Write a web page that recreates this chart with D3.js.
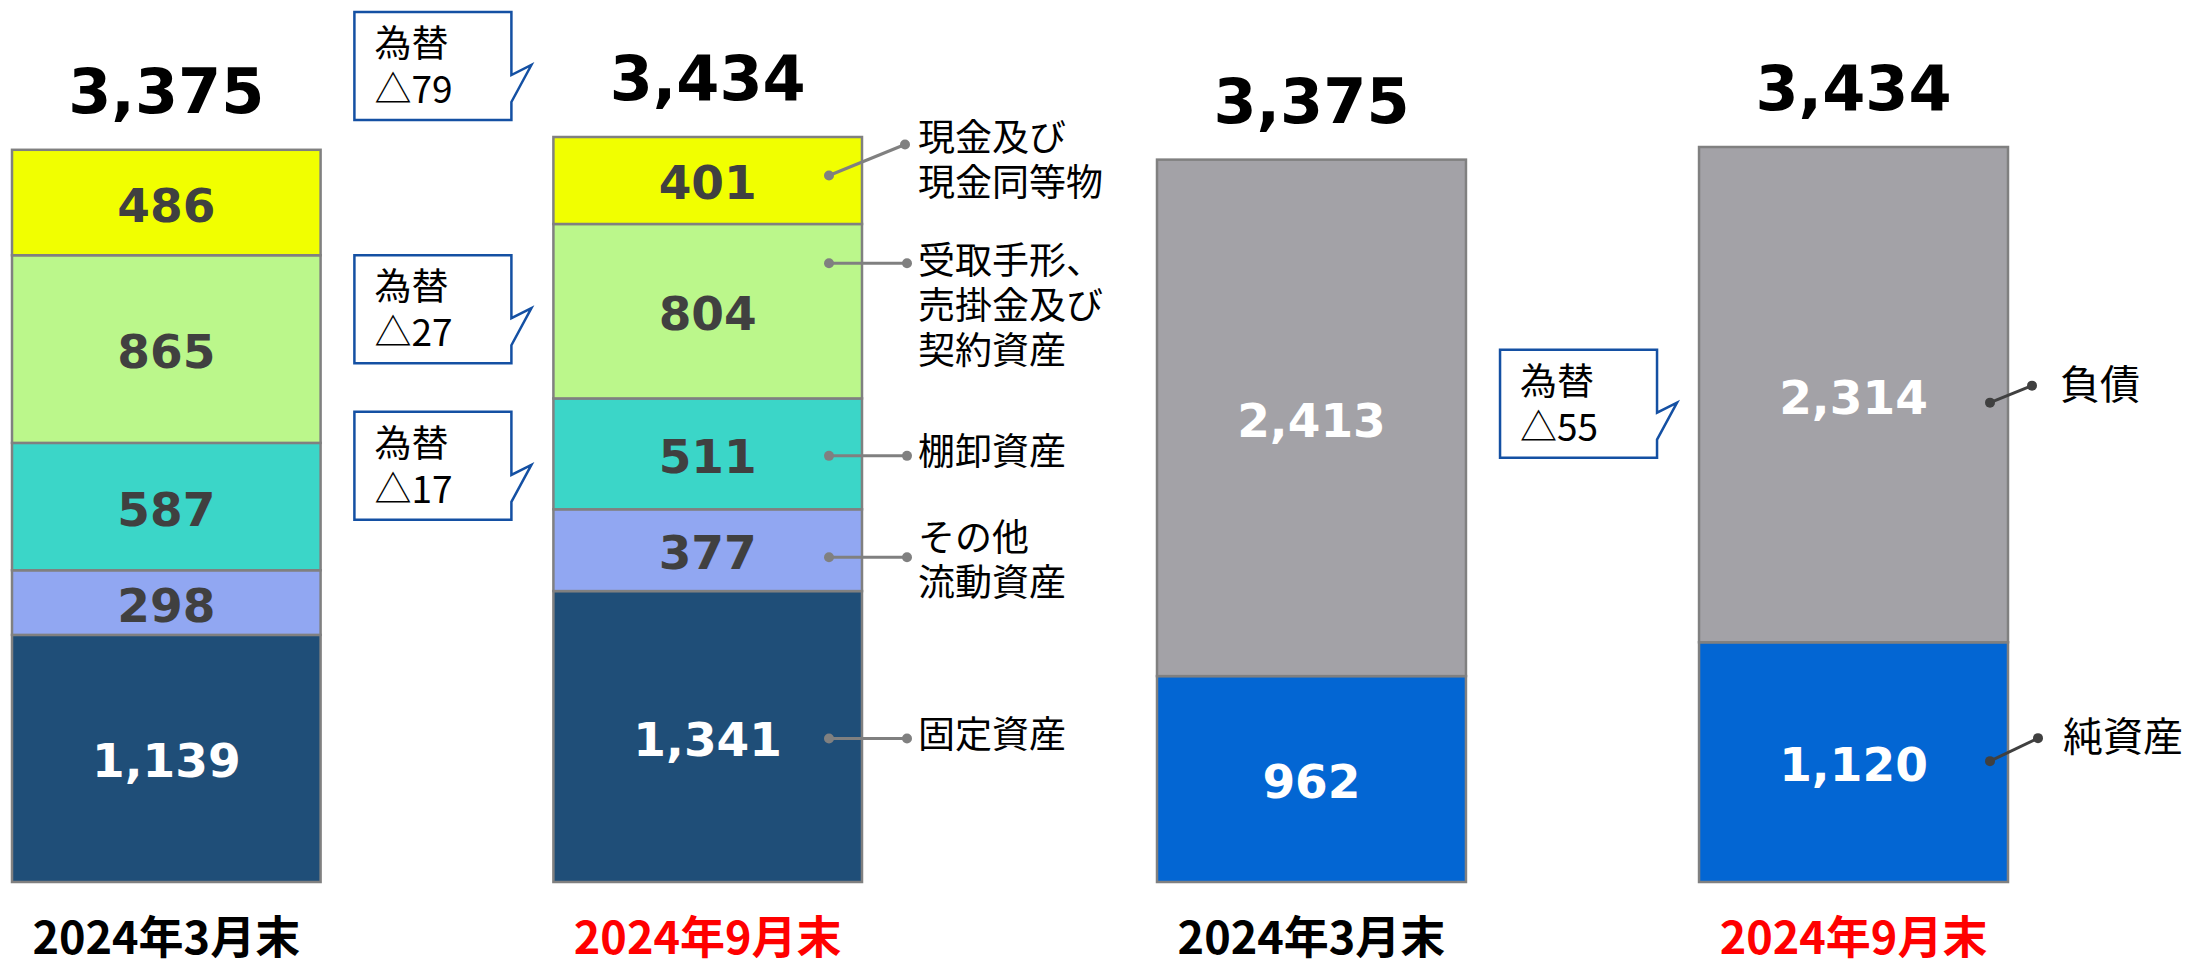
<!DOCTYPE html>
<html lang="ja">
<head>
<meta charset="utf-8">
<script src="https://cdn.jsdelivr.net/npm/d3@7"></script>
<style>
  html, body { margin: 0; padding: 0; background: #fff; }
  svg { display: block; }
  .num { font-family: "DejaVu Sans", Verdana, sans-serif; font-weight: bold; }
  .jp { font-family: "Noto Sans CJK JP", "Noto Sans", sans-serif; }
</style>
</head>
<body>
<div id="chart"></div>
<script>
// 期間
const periods = ['2024年3月末', '2024年9月末'];
const periodColors = ['#000000', '#ff0000'];
const totals = [3375, 3434];

// 資産の部（下から積み上げ）
const assetKeys = ['固定資産', 'その他流動資産', '棚卸資産', '受取手形、売掛金及び契約資産', '現金及び現金同等物'];
const assetMar = [1139, 298, 587, 865, 486];
const assetSep = [1341, 377, 511, 804, 401];
const assetColors = ['#1f4e78', '#91a7f2', '#3bd6c8', '#bbf78b', '#f1ff00'];
const assetTextColors = ['#ffffff', '#404040', '#404040', '#404040', '#404040'];
const assetLabelLines = [['固定資産'], ['その他', '流動資産'], ['棚卸資産'], ['受取手形、', '売掛金及び', '契約資産'], ['現金及び', '現金同等物']];

// 負債・純資産の部
const liabKeys = ['純資産', '負債'];
const liabMar = [962, 2413];
const liabSep = [1120, 2314];
const liabColors = ['#0366d3', '#a3a2a7'];
const liabTextColors = ['#ffffff', '#ffffff'];
const liabLabelLines = [['純資産'], ['負債']];

// 為替影響
const fxTitle = '為替';
const fxValues = ['△79', '△27', '△17', '△55'];

const W = 2194, H = 967;
const baseY = 882;
const fmt = d3.format(',');

const svg = d3.select('#chart').append('svg')
  .attr('width', W)
  .attr('height', H);

// 左右でスケールが少し違う
const panels = [
  {
    x: d3.scaleBand().domain(periods).range([12, 862]).paddingInner(0.43),
    y: d3.scaleLinear().domain([0, 3434]).range([baseY, 137]),
    keys: assetKeys, series: [assetMar, assetSep],
    colors: assetColors, textColors: assetTextColors
  },
  {
    x: d3.scaleBand().domain(periods).range([1157, 2008]).paddingInner(0.43),
    y: d3.scaleLinear().domain([0, 3434]).range([baseY, 147]),
    keys: liabKeys, series: [liabMar, liabSep],
    colors: liabColors, textColors: liabTextColors
  }
];

panels.forEach(p => {
  const rows = periods.map((period, i) => {
    const r = { period };
    p.keys.forEach((k, j) => { r[k] = p.series[i][j]; });
    return r;
  });
  p.stacked = d3.stack().keys(p.keys)(rows);

  const g = svg.append('g');
  const layer = g.selectAll('.layer')
    .data(p.stacked)
    .enter()
    .append('g')
    .attr('class', 'layer');

  layer.selectAll('rect')
    .data(d => d)
    .enter()
    .append('rect')
    .attr('x', d => p.x(d.data.period))
    .attr('y', d => p.y(d[1]))
    .attr('width', p.x.bandwidth())
    .attr('height', d => p.y(d[0]) - p.y(d[1]))
    .attr('fill', function () { return p.colors[d3.select(this.parentNode).datum().index]; })
    .attr('stroke', '#808080')
    .attr('stroke-width', 2.5);

  layer.selectAll('text')
    .data(d => d)
    .enter()
    .append('text')
    .attr('class', 'num')
    .attr('x', d => p.x(d.data.period) + p.x.bandwidth() / 2)
    .attr('y', d => (p.y(d[0]) + p.y(d[1])) / 2 + 19)
    .attr('text-anchor', 'middle')
    .style('font-size', '47px')
    .attr('fill', function () { return p.textColors[d3.select(this.parentNode).datum().index]; })
    .text(d => fmt(d[1] - d[0]));

  // 合計
  g.selectAll('.total')
    .data(periods)
    .enter()
    .append('text')
    .attr('class', 'num total')
    .attr('x', d => p.x(d) + p.x.bandwidth() / 2)
    .attr('y', (d, i) => p.y(totals[i]) - 37)
    .attr('text-anchor', 'middle')
    .style('font-size', '62px')
    .attr('fill', '#000')
    .text((d, i) => fmt(totals[i]));

  // 期間ラベル
  g.selectAll('.period')
    .data(periods)
    .enter()
    .append('text')
    .attr('class', 'jp period')
    .attr('x', d => p.x(d) + p.x.bandwidth() / 2)
    .attr('y', 954)
    .attr('text-anchor', 'middle')
    .style('font-size', '45px')
    .style('font-weight', 'bold')
    .attr('fill', (d, i) => periodColors[i])
    .text(d => d);
});

// 凡例代わりの引き出し線（9月末の棒の右側）
function drawLeaders(p, lines, layout, color, fontSize) {
  const last = periods[1];
  const bx = p.x(last), bw = p.x.bandwidth();
  const g = svg.append('g');
  p.stacked.forEach((s, j) => {
    const d = s[1];
    const mid = (p.y(d[0]) + p.y(d[1])) / 2;
    const L = layout[j];
    const sx = bx + bw + L.sx, sy = mid + L.sy;
    const ex = bx + bw + L.ex, ey = mid + L.ey;
    g.append('line')
      .attr('x1', sx).attr('y1', sy).attr('x2', ex).attr('y2', ey)
      .attr('stroke', color).attr('stroke-width', 3);
    g.append('circle').attr('cx', sx).attr('cy', sy).attr('r', 5).attr('fill', color);
    g.append('circle').attr('cx', ex).attr('cy', ey).attr('r', 5).attr('fill', color);
    const t = g.append('text')
      .attr('class', 'jp')
      .attr('x', bx + bw + L.tx)
      .attr('y', ey + L.ty)
      .style('font-size', fontSize + 'px')
      .attr('fill', '#000');
    lines[j].forEach((line, k) => {
      t.append('tspan')
        .attr('x', bx + bw + L.tx)
        .attr('dy', k === 0 ? 0 : 45)
        .text(line);
    });
  });
}

drawLeaders(panels[0], assetLabelLines, [
  { sx: -33, sy: 2, ex: 45, ey: 2, tx: 56, ty: 9 },
  { sx: -33, sy: 7, ex: 45, ey: 7, tx: 56, ty: -6 },
  { sx: -33, sy: 2, ex: 45, ey: 2, tx: 56, ty: 9 },
  { sx: -33, sy: -48, ex: 45, ey: -48, tx: 56, ty: 11 },
  { sx: -33, sy: -5, ex: 43, ey: -36, tx: 56, ty: 7 }
], '#808080', 37);

drawLeaders(panels[1], liabLabelLines, [
  { sx: -18, sy: -1, ex: 30, ey: -24, tx: 55, ty: 13 },
  { sx: -18, sy: 8, ex: 24, ey: -9, tx: 52, ty: 13 }
], '#404040', 40);

// 為替の吹き出し
const fxTargets = [
  { panel: 0, target: 'total', dy: -72 },
  { panel: 0, target: 3, dy: -3 },
  { panel: 0, target: 2, dy: 11 },
  { panel: 1, target: 1, dy: 8 }
];

fxTargets.forEach((f, i) => {
  const p = panels[f.panel];
  const last = periods[1];
  let tipY;
  if (f.target === 'total') {
    tipY = p.y(totals[1]) + f.dy;
  } else {
    const d = p.stacked[f.target][1];
    tipY = (p.y(d[0]) + p.y(d[1])) / 2 + f.dy;
  }
  const x1 = p.x(last) - 42, x0 = x1 - 157;
  const y0 = tipY - 53, y1 = y0 + 108;
  const tipX = x1 + 20;
  const path = d3.path();
  path.moveTo(x0, y0);
  path.lineTo(x1, y0);
  path.lineTo(x1, tipY + 10);
  path.lineTo(tipX, tipY);
  path.lineTo(x1, tipY + 37);
  path.lineTo(x1, y1);
  path.lineTo(x0, y1);
  path.closePath();
  const g = svg.append('g');
  g.append('path')
    .attr('d', path.toString())
    .attr('fill', '#fff')
    .attr('stroke', '#1450a3')
    .attr('stroke-width', 2.5);
  g.append('text')
    .attr('class', 'jp')
    .attr('x', x0 + 20)
    .attr('y', y0 + 45)
    .style('font-size', '37px')
    .attr('fill', '#000')
    .text(fxTitle);
  g.append('text')
    .attr('class', 'jp')
    .attr('x', x0 + 20)
    .attr('y', y0 + 91)
    .style('font-size', '37px')
    .attr('fill', '#000')
    .text(fxValues[i]);
});
</script>
</body>
</html>
